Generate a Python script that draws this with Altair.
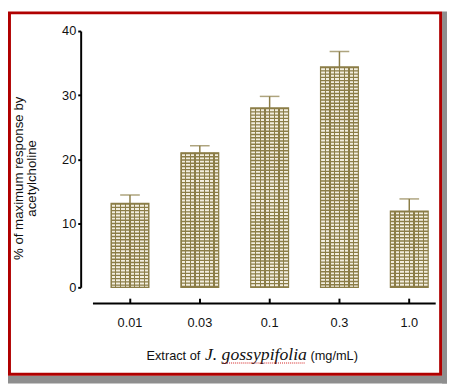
import altair as alt
import pandas as pd

# ---- data ----
conc = ["0.01", "0.03", "0.1", "0.3", "1.0"]
mean = [13.1, 21.0, 28.0, 34.4, 11.9]
upper = [14.4, 22.1, 29.8, 36.8, 13.8]
y_ticks = [0, 10, 20, 30, 40]

df = pd.DataFrame({"conc": conc, "mean": mean, "upper": upper})
one = pd.DataFrame({"k": [0]})

OLIVE = "#8b7d47"
CELL = "#f3efe0"
SANS = "Liberation Sans"

xscale = alt.Scale(domain=conc, paddingInner=0.458, paddingOuter=0.1835, align=0.726)
yscale = alt.Scale(domain=[0, 40], nice=False, zero=True)

x_axis = alt.Axis(title=None, labelAngle=0, offset=16, domainWidth=2,
                  domainColor="black", ticks=False, labelPadding=14,
                  labelFontSize=13, labelFont=SANS, labelColor="#111",
                  grid=False, zindex=1)
# inward ticks on the x axis line: a tick-only axis placed on the same line
x_tick_axis = alt.Axis(orient="top", offset=-277, title=None, labels=False, domain=False,
                       ticks=True, tickSize=5, tickWidth=2, tickColor="black",
                       grid=False, zindex=1)
y_axis = alt.Axis(title=None, values=y_ticks, offset=12, domainWidth=2,
                  domainColor="black", tickSize=3, tickWidth=2,
                  tickColor="black", labelPadding=2, labelFontSize=13,
                  labelFont=SANS, labelColor="#111", grid=False, zindex=1)

x_main = alt.X("conc:N", scale=xscale, sort=conc, axis=x_axis)
x_plain = alt.X("conc:N", scale=xscale, sort=conc, axis=None)
x_top = alt.X("conc:N", scale=xscale, sort=conc, axis=x_tick_axis)
y_enc = alt.Y("mean:Q", scale=yscale, axis=y_axis)

# vertical hatch lines as a horizontal gradient inside each bar (styling only)
stops = []
n_cells = 8
lw = 0.035
for i in range(n_cells + 1):
    p = i / n_cells
    a = max(0.0, p - lw / 2)
    b = min(1.0, p + lw / 2)
    stops += [alt.GradientStop(offset=a, color=CELL), alt.GradientStop(offset=a, color=OLIVE),
              alt.GradientStop(offset=b, color=OLIVE), alt.GradientStop(offset=b, color=CELL)]
hatch = alt.LinearGradient(gradient="linear", stops=stops, x1=0, x2=1, y1=0, y2=0)

# decorative frame and shadow
shadow_r = alt.Chart(one).mark_rect(fill="#8e8e8e").encode(
    x=alt.value(356), x2=alt.value(361), y=alt.value(-20), y2=alt.value(359))
shadow_b = alt.Chart(one).mark_rect(fill="#8e8e8e").encode(
    x=alt.value(-86), x2=alt.value(361), y=alt.value(351), y2=alt.value(359))
frame = alt.Chart(one).mark_rect(fill="white", fillOpacity=0, stroke="#b00000", strokeWidth=3).encode(
    x=alt.value(-84.5), x2=alt.value(354.5), y=alt.value(-18.5), y2=alt.value(349.5))

bars = alt.Chart(df).mark_bar(fill=hatch).encode(x=x_main, y=y_enc)
hstripes = alt.Chart(df).mark_rule(color=OLIVE, strokeWidth=38.5, strokeDash=[1.4, 1.9],
                                   strokeCap="butt").encode(
    x=x_plain, y=y_enc, y2=alt.datum(0))
outline = alt.Chart(df).mark_bar(fill="white", fillOpacity=0, stroke=OLIVE, strokeWidth=1.2).encode(
    x=x_plain, y=y_enc)
err = alt.Chart(df).mark_rule(color=OLIVE, strokeWidth=1.5).encode(
    x=x_plain, y=y_enc, y2="upper:Q")
cap = alt.Chart(df).mark_tick(color=OLIVE, thickness=1.5, size=20).encode(
    x=x_top, y=alt.Y("upper:Q", scale=yscale, axis=y_axis))

def txt(s, x, y, **kw):
    return alt.Chart(one).mark_text(text=s, **kw).encode(x=alt.value(x), y=alt.value(y))

yt1 = txt("% of maximum response by", -74.5, 150, angle=270, align="center",
          baseline="middle", font=SANS, fontSize=13.5, color="#111")
yt2 = txt("acetylcholine", -61, 150, angle=270, align="center",
          baseline="middle", font=SANS, fontSize=13.5, color="#111")
xt1 = txt("Extract of", 55, 335, align="left", baseline="alphabetic",
          font=SANS, fontSize=13, color="#111")
xt2 = txt("J. gossypifolia", 114.5, 335, align="left", baseline="alphabetic",
          font="Liberation Serif", fontStyle="italic", fontSize=18, color="#111")
xt3 = txt("(mg/mL)", 222, 335, align="left", baseline="alphabetic",
          font=SANS, fontSize=13, color="#111")
squiggle = alt.Chart(one).mark_rule(color="#d42020", strokeWidth=1.2, strokeDash=[1, 1]).encode(
    x=alt.value(133), x2=alt.value(217), y=alt.value(338))

chart = alt.layer(
    shadow_r, shadow_b, frame, bars, hstripes, outline, err, cap,
    yt1, yt2, xt1, xt2, xt3, squiggle
).resolve_axis(x="independent").properties(
    width=349, height=261,
    autosize=alt.AutoSizeParams(type="none"),
    padding={"left": 86, "top": 20, "right": 12, "bottom": 98},
    background="white",
).configure_view(stroke=None)

chart.save("out.html", embed_options={"renderer": "svg", "actions": False})
